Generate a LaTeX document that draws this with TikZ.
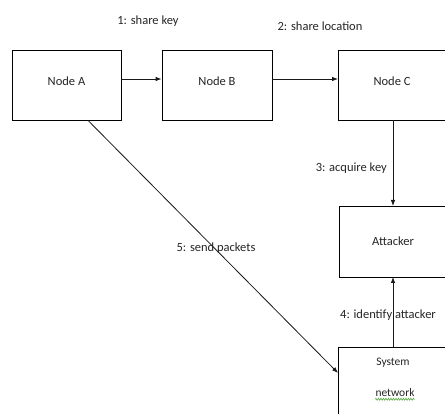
\documentclass[tikz,border=0pt]{standalone}
\usepackage{fontspec}
\setmainfont{Carlito}
\usetikzlibrary{arrows.meta,decorations.pathmorphing}
\definecolor{spell}{RGB}{90,170,70}
\begin{document}
\begin{tikzpicture}[x=1pt,y=-1pt,
  box/.style={draw=black,line width=0.8pt,inner sep=0pt},
  lbl/.style={font=\fontsize{12.5}{14}\selectfont,text=black!85,inner sep=0pt},
  conn/.style={draw=black!90,line width=0.8pt,-{Latex[length=6pt,width=4.5pt]}}]
\useasboundingbox (0,0) rectangle (445,414);
\fill[white] (0,0) rectangle (445,414);
\node[box,minimum width=109pt,minimum height=70pt] (A) at (66.5,85) {};
\node[lbl] (Atxt) at (66.5,81) {Node A};
\node[box,minimum width=110pt,minimum height=70pt] (B) at (217,85) {};
\node[lbl] (Btxt) at (217,81) {Node B};
\draw[line width=0.8pt] (445,50) -- (338,50) -- (338,120) -- (445,120);
\coordinate (C) at (393,120);
\coordinate (Cl) at (338,79);
\node[lbl] (Ctxt) at (392,81) {Node C};
\draw[line width=0.8pt] (445,206) -- (339,206) -- (339,277) -- (445,277);
\coordinate (Att) at (393,206);
\coordinate (Attb) at (393,277);
\node[lbl] (Atttxt) at (393,241) {Attacker};
\draw[line width=0.8pt] (445,347) -- (338,347) -- (338,414);
\coordinate (Sys) at (393,347);
\coordinate (Sysl) at (338,373);
\node[lbl,font=\fontsize{11.5}{13}\selectfont] (Systxt) at (393,363) {System};
\node[lbl,font=\fontsize{11.5}{13}\selectfont] (net) at (395,393) {network};
\draw[spell,line width=0.6pt,decorate,decoration={zigzag,amplitude=1pt,segment length=2.5pt}] ([yshift=-2pt]net.south west) -- ([yshift=-2pt]net.south east);
\draw[conn] (A.east |- 0,79) -- (B.west |- 0,79);
\draw[conn] (B.east |- 0,79) -- (Cl);
\draw[conn] (C) -- (Att);
\draw[conn] (Sys) -- (Attb);
\draw[conn] ([xshift=21.5pt]A.south) -- (Sysl);
\node[lbl] (l1) at (148,21) {1: share key};
\node[lbl] (l2) at (320,26) {2: share location};
\node[lbl,anchor=east] (l3) at (387,168) {3: acquire key};
\node[lbl] (l4) at (388,315) {4: identify attacker};
\node[lbl] (l5) at (216,248) {5: send packets};
\end{tikzpicture}
\end{document}
